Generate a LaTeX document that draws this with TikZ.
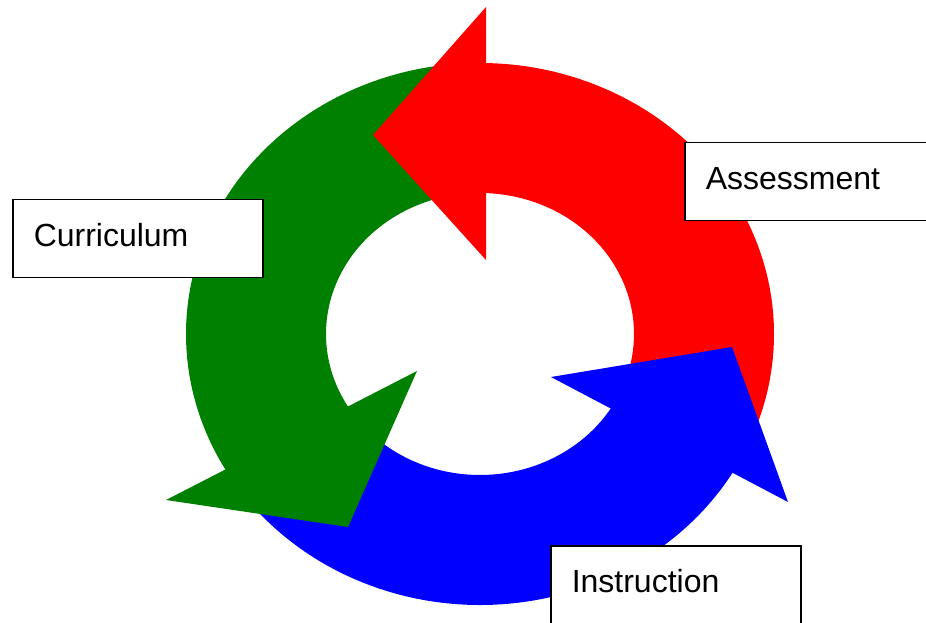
\documentclass[tikz,border=0pt]{standalone}
\usepackage{fontspec}
\setmainfont{Liberation Sans}
\usepackage{xcolor}
\usepackage{tikz}
\usetikzlibrary{calc}
\definecolor{cycred}{HTML}{FF0000}
\definecolor{cycgreen}{HTML}{008000}
\definecolor{cycblue}{HTML}{0000FF}

\begin{document}
\begin{tikzpicture}[x=1pt, y=1pt,
    stage/.style={draw=black, line width=1.5pt, fill=white, anchor=north west,
        minimum height=78pt, text width=208pt, inner xsep=21pt, inner ysep=0pt, align=left,
        font=\fontsize{32}{38}\selectfont, text height=24pt, text depth=8pt}]
    \useasboundingbox (0,0) rectangle (926,622);
    \clip (0,0) rectangle (926,622);
    \coordinate (c) at (480,288);

    % shafts
    \fill[cycred] ($(c)+(90:294pt and 271pt)$) arc[start angle=90, end angle=-25, x radius=294pt, y radius=271pt]
        -- ($(c)+(-25:154pt and 141pt)$) arc[start angle=-25, end angle=90, x radius=154pt, y radius=141pt] -- cycle;
    \fill[cycgreen] ($(c)+(97:294pt and 271pt)$) arc[start angle=97, end angle=212, x radius=294pt, y radius=271pt]
        -- ($(c)+(212:154pt and 141pt)$) arc[start angle=212, end angle=97, x radius=154pt, y radius=141pt] -- cycle;
    \fill[cycblue] ($(c)+(220:294pt and 271pt)$) arc[start angle=220, end angle=331, x radius=294pt, y radius=271pt]
        -- ($(c)+(331:154pt and 141pt)$) arc[start angle=331, end angle=220, x radius=154pt, y radius=141pt] -- cycle;

    % heads
    \fill[cycred] (486,615) -- (373,487) -- (486,362) -- cycle;
    \fill[cycgreen] (417,251) -- (166,122) -- (348,95) -- cycle;
    \fill[cycblue] (551,245) -- (732,275) -- (788,120) -- cycle;

    % labels
    \node[stage] (curriculum) at (12,423) {Curriculum};
    \node[stage] (assessment) at (684,480) {Assessment};
    \node[stage] (instruction) at (550,77) {Instruction};
\end{tikzpicture}
\end{document}
